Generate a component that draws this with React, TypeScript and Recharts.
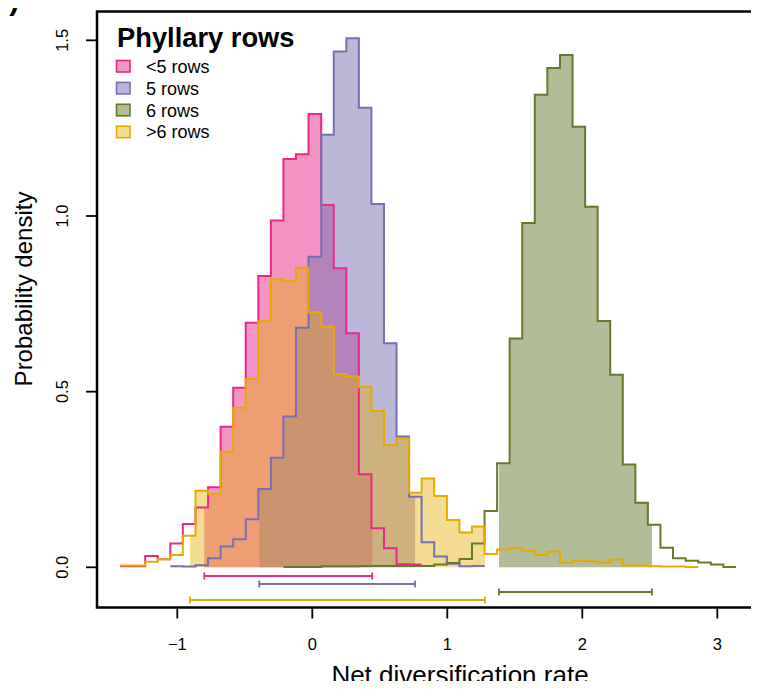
import React from "react";
import {
  Area,
  ComposedChart,
  Label,
  Legend,
  Line,
  ReferenceArea,
  XAxis,
  YAxis,
} from "recharts";

// shared histogram breaks (net diversification rate)
const binEdges = [
  -1.424, -1.331, -1.238, -1.145, -1.052, -0.959, -0.865, -0.772, -0.679, -0.586,
  -0.493, -0.4, -0.307, -0.214, -0.121, -0.028, 0.066, 0.159, 0.252, 0.345,
  0.438, 0.531, 0.624, 0.717, 0.81, 0.903, 0.997, 1.09, 1.183, 1.276,
  1.369, 1.462, 1.555, 1.648, 1.741, 1.835, 1.928, 2.021, 2.114, 2.207,
  2.3, 2.393, 2.486, 2.579, 2.672, 2.766, 2.859, 2.952, 3.045, 3.138,
];

const seriesNames = ["<5 rows", "5 rows", "6 rows", ">6 rows"];
const seriesColors = ["#E7298A", "#7570B3", "#667A2E", "#E6AB02"];
const fillOpacity = [0.5, 0.5, 0.5, 0.42];

// index of the first break for each series
const firstBin = [0, 4, 13, 0];

const pinkDensity = [
  0.003, 0.003, 0.032, 0.023, 0.068, 0.123, 0.17, 0.228, 0.4, 0.511, 0.696, 0.829,
  0.987, 1.162, 1.176, 1.29, 1.031, 0.851, 0.666, 0.265, 0.111, 0.054, 0.009, 0.008,
];
const blueDensity = [
  0.003, 0.002, 0.006, 0.026, 0.059, 0.08, 0.137, 0.223, 0.312, 0.429, 0.682, 0.884,
  1.231, 1.468, 1.506, 1.308, 1.034, 0.638, 0.372, 0.201, 0.071, 0.031, 0.01, 0.003,
  0.004,
];
const greenDensity = [
  0.001, 0.001, 0.001, 0.003, 0.003, 0.003, 0.004, 0.004, 0.004, 0.004, 0.004, 0.004,
  0.008, 0.012, 0.024, 0.068, 0.16, 0.296, 0.651, 0.98, 1.345, 1.421, 1.458, 1.254,
  1.026, 0.701, 0.548, 0.293, 0.184, 0.121, 0.056, 0.026, 0.019, 0.014, 0.008, 0.001,
];
const orangeDensity = [
  0.005, 0.005, 0.016, 0.023, 0.035, 0.09, 0.218, 0.209, 0.329, 0.454, 0.536, 0.702,
  0.82, 0.815, 0.853, 0.726, 0.685, 0.55, 0.543, 0.514, 0.445, 0.348, 0.367, 0.212,
  0.253, 0.203, 0.135, 0.099, 0.116, 0.038, 0.051, 0.056, 0.048, 0.035, 0.045, 0.012,
  0.019, 0.017, 0.014, 0.022, 0.005, 0.005, 0.003, 0.002, 0.002, 0.001,
];

// 95% HPD intervals
const hpdLower = [-0.8, -0.393, 1.383, -0.906];
const hpdUpper = [0.444, 0.761, 2.516, 1.279];
const barLevel = [-0.0248, -0.0475, -0.0706, -0.0931];

const xTicks = [-1, 0, 1, 2, 3];
const yTicks = [0, 0.5, 1, 1.5];
const xDomain = [-1.5948, 3.783];
const yDomain = [-0.1144, 1.5821];

const densities = [pinkDensity, blueDensity, greenDensity, orangeDensity];
const FONT = '"Liberation Sans", Arial, Helvetica, sans-serif';

const heightAt = (s: number, x: number) => {
  const start = firstBin[s];
  const d = densities[s];
  const lo = binEdges[start];
  const hi = binEdges[start + d.length];
  if (x < lo - 1e-9 || x > hi + 1e-9) return null;
  let k = 0;
  while (k < d.length - 1 && binEdges[start + k + 1] <= x + 1e-9) k++;
  return d[k];
};

const xs = Array.from(new Set([...binEdges, ...hpdLower, ...hpdUpper])).sort(
  (a, b) => a - b
);

const rows = xs.map((x) => {
  const row: Record<string, number | null> = { x };
  densities.forEach((_, s) => {
    const h = heightAt(s, x);
    row[`o${s}`] = h;
    row[`f${s}`] = x >= hpdLower[s] - 1e-9 && x <= hpdUpper[s] + 1e-9 ? h : null;
    row[`b${s}`] = x === hpdLower[s] || x === hpdUpper[s] ? barLevel[s] : null;
  });
  return row;
});

const YTick = (props: any) => {
  const { x, y, payload } = props;
  const tx = x - 16;
  return (
    <text
      x={tx}
      y={y}
      transform={`rotate(-90 ${tx} ${y})`}
      textAnchor="middle"
      fontFamily={FONT}
      fontSize={16.5}
      fill="#000"
    >
      {Number(payload.value).toFixed(1)}
    </text>
  );
};

const XTick = (props: any) => {
  const { x, y, payload } = props;
  return (
    <text
      x={x}
      y={y + 29.5}
      textAnchor="middle"
      fontFamily={FONT}
      fontSize={16.5}
      fill="#000"
    >
      {String(payload.value).replace("-", "\u2212")}
    </text>
  );
};

const capDot = (color: string) => (props: any) => {
  const { cx, cy, value, index } = props;
  if (value == null || cy == null || cx == null) return <g key={`c${index}`} />;
  return (
    <line
      key={`c${index}`}
      x1={cx}
      x2={cx}
      y1={cy - 3.5}
      y2={cy + 3.5}
      stroke={color}
      strokeWidth={1.8}
    />
  );
};

const LegendBox = () => (
  <svg width={320} height={150} style={{ display: "block" }}>
    <text x={117} y={46.7} fontFamily={FONT} fontSize={27.3} fontWeight="bold" fill="#000">
      Phyllary rows
    </text>
    {seriesNames.map((name, i) => (
      <g key={name}>
        <rect
          x={116.5}
          y={60.5 + i * 21.9}
          width={13.5}
          height={11.5}
          fill={seriesColors[i]}
          fillOpacity={fillOpacity[i]}
          stroke={seriesColors[i]}
          strokeWidth={1.6}
        />
        <text x={146} y={72.7 + i * 21.9} fontFamily={FONT} fontSize={18} fill="#000">
          {name}
        </text>
      </g>
    ))}
  </svg>
);

export default function App() {
  return (
    <div
      style={{
        position: "relative",
        width: 759,
        height: 689,
        overflow: "hidden",
        margin: -8,
        background: "#fff",
      }}
    >
      <ComposedChart
        width={830}
        height={689}
        data={rows}
        margin={{ top: 11.5, right: 7, bottom: 0, left: 0 }}
      >
        <XAxis
          dataKey="x"
          type="number"
          domain={xDomain}
          ticks={xTicks}
          allowDataOverflow
          height={81.5}
          tickSize={11}
          axisLine={false}
          tickLine={{ stroke: "#000", strokeWidth: 1.8 }}
          tick={<XTick />}
        >
          <Label
            content={() => (
              <text
                x={460}
                y={684}
                textAnchor="middle"
                fontFamily={FONT}
                fontSize={26}
                fill="#000"
              >
                Net diversification rate
              </text>
            )}
          />
        </XAxis>
        <YAxis
          type="number"
          domain={yDomain}
          ticks={yTicks}
          allowDataOverflow
          width={97}
          tickSize={11}
          axisLine={false}
          tickLine={{ stroke: "#000", strokeWidth: 1.8 }}
          tick={<YTick />}
        >
          <Label
            content={() => {
              const lx = 32;
              const ly = 289;
              return (
                <text
                  x={lx}
                  y={ly}
                  transform={`rotate(-90 ${lx} ${ly})`}
                  textAnchor="middle"
                  fontFamily={FONT}
                  fontSize={24}
                  fill="#000"
                >
                  Probability density
                </text>
              );
            }}
          />
        </YAxis>
        {seriesNames.map((name, s) => [
          <Area
            key={`f${s}`}
            dataKey={`f${s}`}
            type="stepAfter"
            baseValue={0}
            stroke="none"
            fill={seriesColors[s]}
            fillOpacity={fillOpacity[s]}
            isAnimationActive={false}
            legendType="none"
          />,
          <Line
            key={`o${s}`}
            dataKey={`o${s}`}
            name={name}
            type="stepAfter"
            stroke={seriesColors[s]}
            strokeWidth={2}
            dot={false}
            activeDot={false}
            isAnimationActive={false}
          />,
        ])}
        {seriesNames.map((name, s) => (
          <Line
            key={`b${s}`}
            dataKey={`b${s}`}
            type="linear"
            connectNulls
            stroke={seriesColors[s]}
            strokeWidth={2}
            dot={capDot(seriesColors[s])}
            activeDot={false}
            isAnimationActive={false}
            legendType="none"
          />
        ))}
        <ReferenceArea
          x1={xDomain[0]}
          x2={xDomain[1]}
          y1={yDomain[0]}
          y2={yDomain[1]}
          fill="none"
          stroke="#000"
          strokeWidth={2.5}
          ifOverflow="visible"
        />
        <Legend
          layout="vertical"
          align="center"
          verticalAlign="middle"
          wrapperStyle={{ left: 0, top: 0, width: 320, height: 150, pointerEvents: "none" }}
          content={() => <LegendBox />}
        />
      </ComposedChart>
      <svg
        width={40}
        height={20}
        style={{ position: "absolute", left: 0, top: 0, pointerEvents: "none" }}
      >
        <text x={-9} y={10} fontFamily={FONT} fontSize={30} fontWeight="bold" fill="#000">
          b)
        </text>
      </svg>
    </div>
  );
}
